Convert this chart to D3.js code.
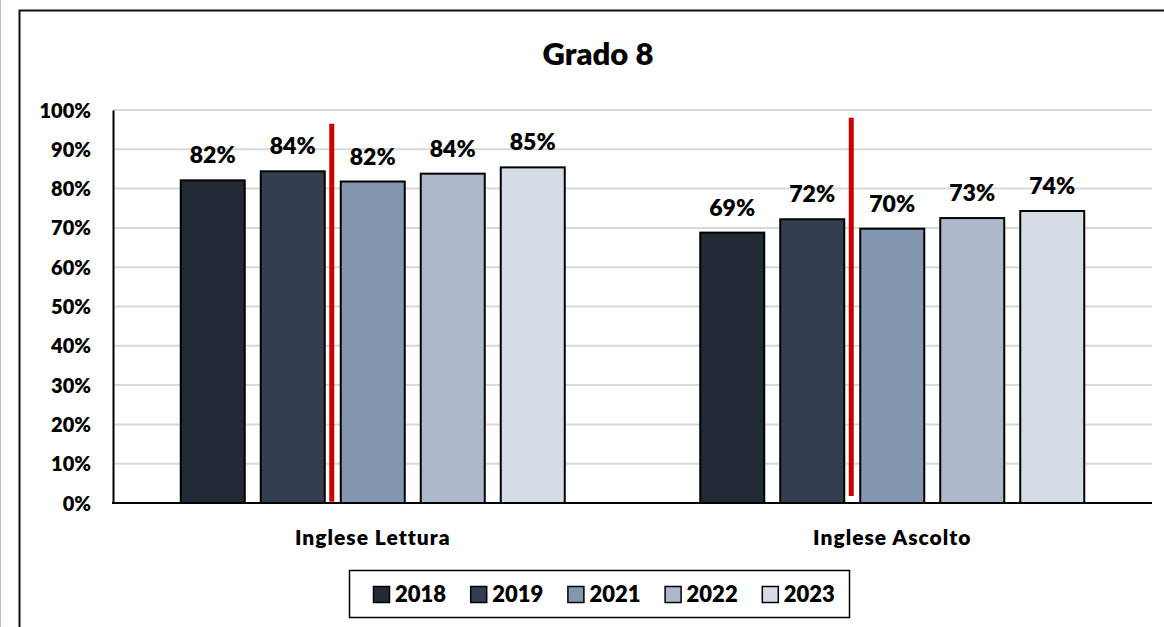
<!DOCTYPE html>
<html>
<head>
<meta charset="utf-8">
<script src="https://cdn.jsdelivr.net/npm/d3@7"></script>
<style>
  html, body { margin: 0; padding: 0; background: #fff; }
  svg { display: block; font-family: Lato, "Open Sans", sans-serif; font-weight: 800; }
</style>
</head>
<body>
<svg id="chart" width="1164" height="627"></svg>
<script>
// Categories, years and percentages per year
const categories = ["Inglese Lettura", "Inglese Ascolto"];
const years = ["2018", "2019", "2021", "2022", "2023"];
const letturaValues = [82.1, 84.4, 81.8, 83.8, 85.4];
const ascoltoValues = [68.8, 72.2, 69.8, 72.5, 74.3];
const yTicks = [0, 10, 20, 30, 40, 50, 60, 70, 80, 90, 100];
const yearColors = ["#222a35", "#333f50", "#8497b0", "#adb9ca", "#d6dce5"];
// Vertical markers between 2019 and 2021 (the gap year), extent in percent units
const dividerTop = [96.5, 98];
const dividerBottom = [0.3, 1.8];

const seriesByCategory = [letturaValues, ascoltoValues];

const svg = d3.select("#chart");
const W = 1164, H = 627;
const plot = { left: 113, right: 1152, top: 110, bottom: 503 };

// page edge and chart frame
svg.append("line").attr("x1", 0.5).attr("x2", 0.5).attr("y1", 0).attr("y2", H)
  .attr("stroke", "#bdbdbd").attr("stroke-width", 1);
svg.append("rect").attr("x", 19.5).attr("y", 10.5).attr("width", 1200).attr("height", 700)
  .attr("fill", "#fff").attr("stroke", "#111").attr("stroke-width", 2);

// title
svg.append("text").attr("x", 598).attr("y", 65).attr("text-anchor", "middle")
  .attr("font-size", 31).attr("fill", "#000").text("Grado 8");

const y = d3.scaleLinear().domain([0, 100]).range([plot.bottom, plot.top]);
const x0 = d3.scaleBand().domain(categories).range([plot.left, plot.right]).padding(0);
const innerW = 400;
const x1 = d3.scaleBand().domain(years)
  .range([(x0.bandwidth() - innerW) / 2, (x0.bandwidth() + innerW) / 2])
  .paddingInner(0.2).paddingOuter(0.1);
const color = d3.scaleOrdinal().domain(years).range(yearColors);

// gridlines
svg.append("g").selectAll("line").data(yTicks.filter(t => t > 0)).join("line")
  .attr("x1", plot.left).attr("x2", plot.right)
  .attr("y1", d => y(d)).attr("y2", d => y(d))
  .attr("stroke", "#d9d9d9").attr("stroke-width", 2);

// y axis
const yAxis = d3.axisLeft(y).tickValues(yTicks).tickSize(0).tickPadding(22)
  .tickFormat(d => d + "%");
const gy = svg.append("g").attr("transform", `translate(${plot.left},0)`).call(yAxis);
gy.select(".domain").attr("stroke", "#000").attr("stroke-width", 2);
gy.selectAll("text").attr("font-size", 20).attr("font-family", "Lato, sans-serif")
  .attr("font-weight", 800).attr("fill", "#000").attr("dy", "0.35em");

// bars
const groups = svg.append("g").selectAll("g").data(categories).join("g")
  .attr("transform", d => `translate(${x0(d)},0)`);

groups.each(function (cat, ci) {
  const g = d3.select(this);
  const rows = years.map((yr, i) => ({ year: yr, value: seriesByCategory[ci][i] }));
  g.selectAll("rect").data(rows).join("rect")
    .attr("x", d => x1(d.year)).attr("width", x1.bandwidth())
    .attr("y", d => y(d.value)).attr("height", d => y(0) - y(d.value))
    .attr("fill", d => color(d.year)).attr("stroke", "#000").attr("stroke-width", 2);
  g.selectAll("text.val").data(rows).join("text").attr("class", "val")
    .attr("x", d => x1(d.year) + x1.bandwidth() / 2)
    .attr("y", d => y(d.value) - 17)
    .attr("text-anchor", "middle").attr("font-size", 23).attr("fill", "#000")
    .text(d => Math.round(d.value) + "%");
  // divider between 2019 and 2021
  const xm = (x1("2019") + x1.bandwidth() + x1("2021")) / 2 - 1;
  g.append("line").attr("x1", xm).attr("x2", xm)
    .attr("y1", y(dividerTop[ci])).attr("y2", y(dividerBottom[ci]))
    .attr("stroke", "#cc0000").attr("stroke-width", 5);
});

// baseline
svg.append("line").attr("x1", plot.left - 1).attr("x2", plot.right)
  .attr("y1", plot.bottom).attr("y2", plot.bottom)
  .attr("stroke", "#000").attr("stroke-width", 2);

// category labels
svg.append("g").selectAll("text").data(categories).join("text")
  .attr("x", d => x0(d) + x0.bandwidth() / 2).attr("y", 544.5)
  .attr("text-anchor", "middle").attr("font-size", 21).attr("letter-spacing", 1)
  .attr("fill", "#000").text(d => d);

// legend
const legend = svg.append("g");
legend.append("rect").attr("x", 349.5).attr("y", 570.5).attr("width", 500).attr("height", 47)
  .attr("fill", "#fff").attr("stroke", "#000").attr("stroke-width", 1.5);
const items = legend.selectAll("g").data(years).join("g")
  .attr("transform", (d, i) => `translate(${373 + i * 97.2},0)`);
items.append("rect").attr("x", 0.5).attr("y", 586.5).attr("width", 16).attr("height", 16)
  .attr("fill", d => color(d)).attr("stroke", "#000").attr("stroke-width", 1.5);
items.append("text").attr("x", 22).attr("y", 602).attr("font-size", 22)
  .attr("fill", "#000").text(d => d);
</script>
</body>
</html>
